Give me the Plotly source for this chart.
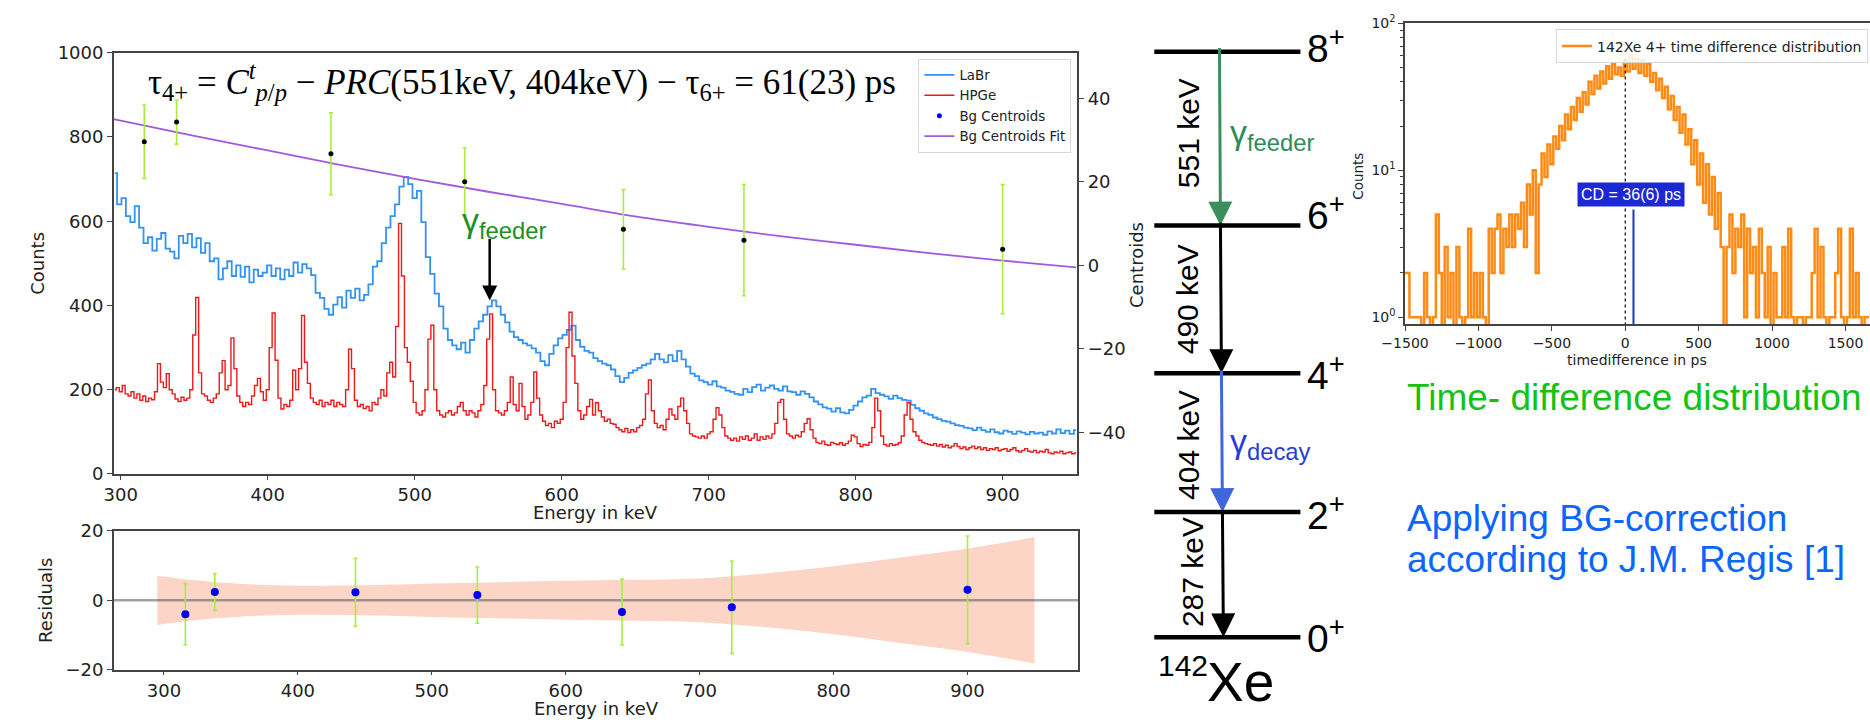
import numpy as np
import plotly.graph_objects as go

W, H = 1870, 727
def X(px):
    return px / W
def Y(py):
    return 1 - py / H

# ------------------------------------------------------------------ data
labr_E0, labr_dE = 296, 3
labr_counts = [
    714, 640, 655, 612, 598, 636, 585, 548, 562, 530,
    558, 572, 535, 528, 512, 565, 548, 570, 538, 560,
    525, 548, 505, 512, 462, 488, 505, 470, 495, 468,
    492, 455, 485, 470, 478, 495, 470, 488, 462, 485,
    470, 502, 478, 498, 488, 472, 430, 418, 392, 378,
    402, 420, 395, 435, 418, 440, 412, 425, 450, 492,
    505, 548, 585, 612, 640, 682, 705, 688, 655, 672,
    598, 515, 475, 428, 398, 345, 318, 305, 296, 312,
    288, 318, 345, 362, 378, 398, 412, 398, 378, 360,
    338, 325, 318, 310, 305, 298, 288, 268, 258, 285,
    305, 322, 330, 342, 352, 318, 302, 292, 288, 275,
    268, 262, 258, 248, 232, 218, 228, 240, 246, 252,
    258, 262, 272, 285, 272, 265, 282, 268, 292, 272,
    255, 238, 232, 222, 218, 212, 220, 208, 205, 198,
    195, 190, 188, 202, 194, 206, 212, 198, 205, 210,
    202, 198, 208, 196, 194, 188, 196, 190, 182, 172,
    165, 158, 155, 148, 156, 146, 144, 152, 162, 172,
    182, 186, 202, 192, 188, 184, 178, 186, 180, 176,
    174, 164, 156, 150, 144, 140, 134, 130, 126, 124,
    120, 116, 114, 110, 108, 104, 110, 104, 100, 106,
    99, 96, 103, 100, 95, 101, 98, 94, 100, 96,
    98, 93, 101, 96, 106, 97, 103, 95, 104,
]

hpge_E0, hpge_dE = 296, 2
hpge_counts = [
    200, 205, 195, 210, 190, 185, 195, 180, 190, 175,
    185, 172, 180, 176, 195, 262, 218, 205, 238, 200,
    190, 178, 172, 182, 175, 180, 200, 330, 419, 240,
    190, 185, 175, 170, 180, 190, 240, 269, 200, 210,
    323, 250, 185, 170, 160, 170, 165, 185, 210, 227,
    195, 175, 200, 300, 382, 270, 180, 154, 165, 160,
    175, 246, 200, 250, 376, 265, 215, 180, 170, 165,
    175, 160, 170, 165, 175, 160, 170, 165, 160, 200,
    296, 250, 175, 160, 165, 155, 160, 150, 170, 165,
    180, 200, 185, 240, 265, 230, 350, 595, 470, 300,
    265, 220, 170, 145, 140, 150, 200, 320, 353, 200,
    150, 140, 135, 145, 150, 140, 145, 160, 170, 150,
    140, 150, 145, 135, 150, 165, 210, 320, 380, 200,
    150, 145, 140, 150, 170, 230, 165, 150, 215, 160,
    130, 140, 170, 242, 180, 140, 125, 115, 120, 110,
    125, 120, 130, 170, 300, 384, 280, 215, 150, 130,
    140, 160, 177, 140, 169, 150, 135, 125, 130, 120,
    118, 110, 105, 100, 108, 98, 105, 100, 110, 115,
    130, 190, 223, 150, 120, 110, 115, 105, 130, 154,
    140, 130, 160, 180, 150, 120, 95, 90, 88, 85,
    90, 85, 95, 100, 130, 157, 140, 110, 90, 85,
    80, 85, 78, 88, 82, 90, 80, 85, 95, 80,
    88, 82, 90, 85, 95, 120, 170, 177, 130, 95,
    90, 85, 92, 88, 100, 120, 131, 105, 85, 75,
    72, 78, 70, 68, 75, 72, 70, 74, 68, 72,
    78, 92, 88, 72, 65, 70, 68, 75, 110, 180,
    150, 90, 70, 66, 72, 68, 70, 74, 90, 140,
    169, 130, 100, 90, 80, 75, 72, 70, 68, 72,
    66, 70, 64, 68, 62, 66, 72, 65, 60, 64,
    58, 62, 66, 60, 64, 58, 62, 56, 60, 58,
    62, 55, 58, 60, 54, 58, 62, 55, 52, 56,
    60, 54, 52, 56, 50, 54, 52, 58, 50, 48,
    52, 50, 54, 48, 50, 52, 48, 50,
]

centroid_E = [316, 338, 443, 534, 642, 724, 900]
centroid_val = [29.6, 34.3, 26.7, 20.0, 8.6, 6.0, 3.8]
centroid_err = [8.8, 5.3, 9.8, 8.1, 9.5, 13.3, 15.5]

fit_E = [295, 350, 400, 450, 500, 550, 600, 650, 700, 750, 800, 850, 900, 950]
fit_val = [35.0, 31.0, 27.5, 24.0, 20.7, 17.6, 14.7, 11.7, 9.2, 6.9, 4.9, 2.9, 1.1, -0.5]

resid_val = [-4.0, 2.4, 2.3, 1.5, -3.4, -2.0, 3.0]
band_E = [295, 320, 350, 400, 450, 500, 550, 600, 650, 700, 750, 800, 850, 900, 950]
band_hw = [7.1, 5.9, 4.9, 4.2, 4.3, 4.8, 5.2, 5.6, 5.9, 6.3, 7.8, 9.8, 12.3, 14.9, 18.2]

time_t0, time_dt = -1500, 20
time_counts = [
    2, 2, 1, 1, 1, 1, 0, 2, 1, 0,
    1, 5, 2, 0, 3, 1, 2, 0, 3, 1,
    0, 1, 4, 1, 2, 1, 2, 1, 0, 4,
    2, 4, 5, 2, 4, 3, 5, 3, 5, 4,
    6, 3, 8, 5, 10, 2, 8, 13, 9, 15,
    11, 17, 14, 20, 16, 24, 19, 27, 22, 31,
    25, 34, 28, 40, 33, 44, 36, 47, 39, 51,
    42, 53, 45, 50, 44, 56, 47, 60, 49, 57,
    46, 56, 44, 53, 40, 46, 35, 42, 31, 37,
    26, 32, 22, 27, 18, 24, 15, 19, 11, 16,
    8, 13, 6, 11, 5, 9, 4, 7, 3, 0,
    3, 5, 2, 4, 3, 5, 1, 4, 2, 3,
    1, 4, 2, 1, 3, 0, 2, 1, 1, 3,
    1, 4, 1, 0, 1, 1, 0, 1, 1, 2,
    4, 1, 3, 1, 0, 1, 1, 2, 4, 1,
    0, 1, 4, 1, 2, 1, 0, 1, 1,
]
cd_time = 56          # position of the CD marker line (ps)
cd_height = 5.4       # top of the CD marker line (counts)
zero_line_top = 58    # top of the dotted line at t = 0

levels = ["8", "6", "4", "2", "0"]
transitions = ["551 keV", "490 keV", "404 keV", "287 keV"]

# ------------------------------------------------------------------ derived
labr_E = labr_E0 + labr_dE * np.arange(len(labr_counts))
hpge_E = hpge_E0 + hpge_dE * np.arange(len(hpge_counts))
time_t = time_t0 + time_dt * np.arange(len(time_counts))
time_plot = [c if c > 0 else 0.5 for c in time_counts]   # zero bins drop below the axis
band_up = [h for h in band_hw]
band_lo = [-h for h in band_hw]

main_xr = [295.3, 950.8]
res_xr = [262.6, 982.7]
time_xr = [-1500, 1667]

C_LABR = "#3393f5"
C_HPGE = "#f01818"
C_FIT = "#a05ade"
C_ERR = "#a8ef3c"
C_ORANGE = "#ff8a14"

TICKF = dict(family="DejaVu Sans", size=18, color="#222")
SANS = "Liberation Sans"

fig = go.Figure()

# main spectrum
fig.add_trace(go.Scatter(x=labr_E, y=labr_counts, mode="lines", name="LaBr",
                         line=dict(color=C_LABR, width=1.8, shape="hvh"),
                         xaxis="x", yaxis="y"))
fig.add_trace(go.Scatter(x=hpge_E, y=hpge_counts, mode="lines", name="HPGe",
                         line=dict(color=C_HPGE, width=1.4, shape="hvh"),
                         xaxis="x", yaxis="y"))
fig.add_trace(go.Scatter(x=[None], y=[None], mode="markers", name="Bg Centroids",
                         marker=dict(color="#0000ee", size=5),
                         xaxis="x", yaxis="y2"))
fig.add_trace(go.Scatter(x=fit_E, y=fit_val, mode="lines", name="Bg Centroids Fit",
                         line=dict(color=C_FIT, width=1.8, shape="spline"),
                         xaxis="x", yaxis="y2"))
fig.add_trace(go.Scatter(x=centroid_E, y=centroid_val, mode="markers", showlegend=False,
                         marker=dict(color="black", size=5),
                         error_y=dict(type="data", array=centroid_err, color=C_ERR,
                                      thickness=1.6, width=2),
                         xaxis="x", yaxis="y2"))

# residuals
fig.add_trace(go.Scatter(x=band_E, y=band_up, mode="lines", line=dict(width=0, shape="spline"),
                         showlegend=False, xaxis="x2", yaxis="y3"))
fig.add_trace(go.Scatter(x=band_E, y=band_lo, mode="lines", line=dict(width=0, shape="spline"),
                         fill="tonexty", fillcolor="#fcd5c6",
                         showlegend=False, xaxis="x2", yaxis="y3"))
fig.add_trace(go.Scatter(x=res_xr, y=[0, 0], mode="lines",
                         line=dict(color="rgba(100,100,100,0.6)", width=2.5),
                         showlegend=False, xaxis="x2", yaxis="y3"))
fig.add_trace(go.Scatter(x=centroid_E, y=resid_val, mode="markers", showlegend=False,
                         marker=dict(color="#0000ee", size=8),
                         error_y=dict(type="data", array=centroid_err, color=C_ERR,
                                      thickness=1.6, width=2),
                         xaxis="x2", yaxis="y3"))

# time difference distribution
fig.add_trace(go.Scatter(x=time_t, y=time_plot, mode="lines",
                         name="142Xe 4+ time difference distribution",
                         line=dict(color=C_ORANGE, width=2.5, shape="hvh"),
                         xaxis="x3", yaxis="y4", legend="legend2"))
fig.add_trace(go.Scatter(x=[0, 0], y=[0.5, zero_line_top], mode="lines", showlegend=False,
                         line=dict(color="black", width=1.2, dash="dot"),
                         xaxis="x3", yaxis="y4"))
fig.add_trace(go.Scatter(x=[cd_time, cd_time], y=[0.5, cd_height], mode="lines", showlegend=False,
                         line=dict(color="#2233cc", width=2),
                         xaxis="x3", yaxis="y4"))

axis_common = dict(showgrid=False, zeroline=False, showline=True, linecolor="#444",
                   linewidth=1.5, ticks="outside", ticklen=5, tickcolor="#444",
                   tickfont=TICKF)
xaxis_common = {**axis_common, "ticklen": 4}
TITLEF = dict(family="DejaVu Sans", size=18, color="#222")
SMALLF = dict(family="DejaVu Sans", size=14, color="#222")

fig.update_layout(
    width=W, height=H, margin=dict(l=0, r=0, t=0, b=0),
    paper_bgcolor="white", plot_bgcolor="white",
    xaxis=dict(domain=[X(91), X(1067)], anchor="y", range=main_xr,
               tickvals=[300, 400, 500, 600, 700, 800, 900], mirror=True, **xaxis_common),
    yaxis=dict(domain=[Y(476.7), Y(43)], anchor="x", range=[0, 1000],
               tickvals=[0, 200, 400, 600, 800, 1000],
               title=dict(text="Counts", font=TITLEF, standoff=8), **axis_common),
    yaxis2=dict(overlaying="y", side="right", anchor="x", range=[-50, 50.9],
                tickvals=[-40, -20, 0, 20, 40], **axis_common),
    xaxis2=dict(domain=[X(91), X(1068)], anchor="y3", range=res_xr,
                tickvals=[300, 400, 500, 600, 700, 800, 900], mirror=True, **xaxis_common),
    yaxis3=dict(domain=[Y(678.3), Y(535.3)], anchor="x2", range=[-20, 20],
                tickvals=[-20, 0, 20], mirror=True,
                title=dict(text="Residuals", font=TITLEF, standoff=8), **axis_common),
    xaxis3=dict(domain=[X(1399), 1.0], anchor="y4", range=time_xr,
                tickvals=[-1500, -1000, -500, 0, 500, 1000, 1500], mirror=True,
                **{**axis_common, "tickfont": SMALLF}),
    yaxis4=dict(domain=[Y(322.7), Y(12.7)], anchor="x3", type="log", range=[-0.049, 2.0],
                tickvals=[1, 10, 100], ticktext=["10<sup>0</sup>", "10<sup>1</sup>", "10<sup>2</sup>"],
                minor=dict(ticks="outside", ticklen=3, tickcolor="#444",
                           tickvals=[2, 3, 4, 5, 6, 7, 8, 9, 20, 30, 40, 50, 60, 70, 80, 90]),
                **{**axis_common, "tickfont": SMALLF}),
    legend=dict(x=X(1061), xanchor="right", y=Y(49), yanchor="top", traceorder="normal",
                font=dict(family="DejaVu Sans", size=13.4, color="#222"),
                bgcolor="rgba(255,255,255,0.85)", bordercolor="#d8d8d8", borderwidth=1),
    legend2=dict(x=X(1868), xanchor="right", y=Y(19), yanchor="top",
                 font=SMALLF,
                 bgcolor="rgba(255,255,255,0.85)", bordercolor="#d8d8d8", borderwidth=1),
    showlegend=True,
)

ann = []
def text(x, y, t, size, color="black", family=SANS, xa="center", ya="middle", angle=0, **kw):
    ann.append(dict(x=X(x), y=Y(y), xref="paper", yref="paper", text=t, showarrow=False,
                    xanchor=xa, yanchor=ya, textangle=angle,
                    font=dict(family=family, size=size, color=color), **kw))

# axis titles
text(1127, 262, "Centroids", 18, "#222", "DejaVu Sans", angle=-90)
text(579, 516, "Energy in keV", 18, "#222", "DejaVu Sans")
text(579.5, 718, "Energy in keV", 18, "#222", "DejaVu Sans")
text(1351, 170, "Counts", 13.5, "#222", "DejaVu Sans", angle=-90)
text(1634, 359, "timedifference in ps", 14, "#222", "DejaVu Sans")

# formula in the spectrum
text(124, 73, "τ<sub>4+</sub> = <i>C</i><sup><i>t</i></sup><sub><i>p</i>/<i>p</i></sub> − <i>PRC</i>(551keV, 404keV) − τ<sub>6+</sub> = 61(23) ps",
     35, "black", "Liberation Serif", xa="left")
text(442, 218, "γ<sub>feeder</sub>", 34, "#1f8f1f", xa="left")
ann.append(dict(x=551, y=412, xref="x", yref="y", ax=0, ay=-63, text="", showarrow=True,
                arrowhead=2, arrowsize=1.2, arrowwidth=2.5, arrowcolor="black"))

# CD box
text(1627.5, 188.5, "CD = 36(6) ps", 16, "white", SANS, bgcolor="#1c28d4", borderpad=3)

# level scheme
level_y = [42, 221, 373, 516, 645]
label_y = [36, 207, 372, 516, 643]
shapes = []
for ly in level_y:
    shapes.append(dict(type="line", xref="paper", yref="paper", x0=X(1145), x1=X(1293),
                       y0=Y(ly), y1=Y(ly), line=dict(color="black", width=4.5)))
for lab, yy in zip(levels, label_y):
    text(1298, yy, lab + "<sup>+</sup>", 39, xa="left")

arrow_x = [1212, 1213, 1214, 1215]
arrow_c = ["#3b8f5c", "black", "#3f66dc", "black"]
trans_lab_x = [1179, 1179, 1179, 1183]
trans_lab_y = [126, 297, 447, 578]
for i, tl in enumerate(transitions):
    ann.append(dict(x=X(arrow_x[i]), y=Y(level_y[i + 1]), xref="paper", yref="paper",
                    ax=-1, ay=level_y[i] - level_y[i + 1],
                    text="", showarrow=True, arrowhead=2, arrowsize=1.6, arrowwidth=3,
                    arrowcolor=arrow_c[i]))
    text(trans_lab_x[i], trans_lab_y[i], tl, 30, angle=-90)

text(1220, 127, "γ<sub>feeder</sub>", 34, "#2e8b57", xa="left")
text(1220, 445, "γ<sub>decay</sub>", 34, "#2a3bd6", xa="left")
text(1147, 674, "142", 30, xa="left")
text(1196, 691, "Xe", 55, xa="left")

# right-hand texts
text(1399, 398, "Time- difference distribution", 37, "#13c313", xa="left")
text(1399, 523, "Applying BG-correction", 37, "#0a66ff", xa="left")
text(1399, 565, "according to J.M. Regis [1]", 37, "#0a66ff", xa="left")

fig.update_layout(annotations=ann, shapes=shapes)
fig.write_html("out.html")
